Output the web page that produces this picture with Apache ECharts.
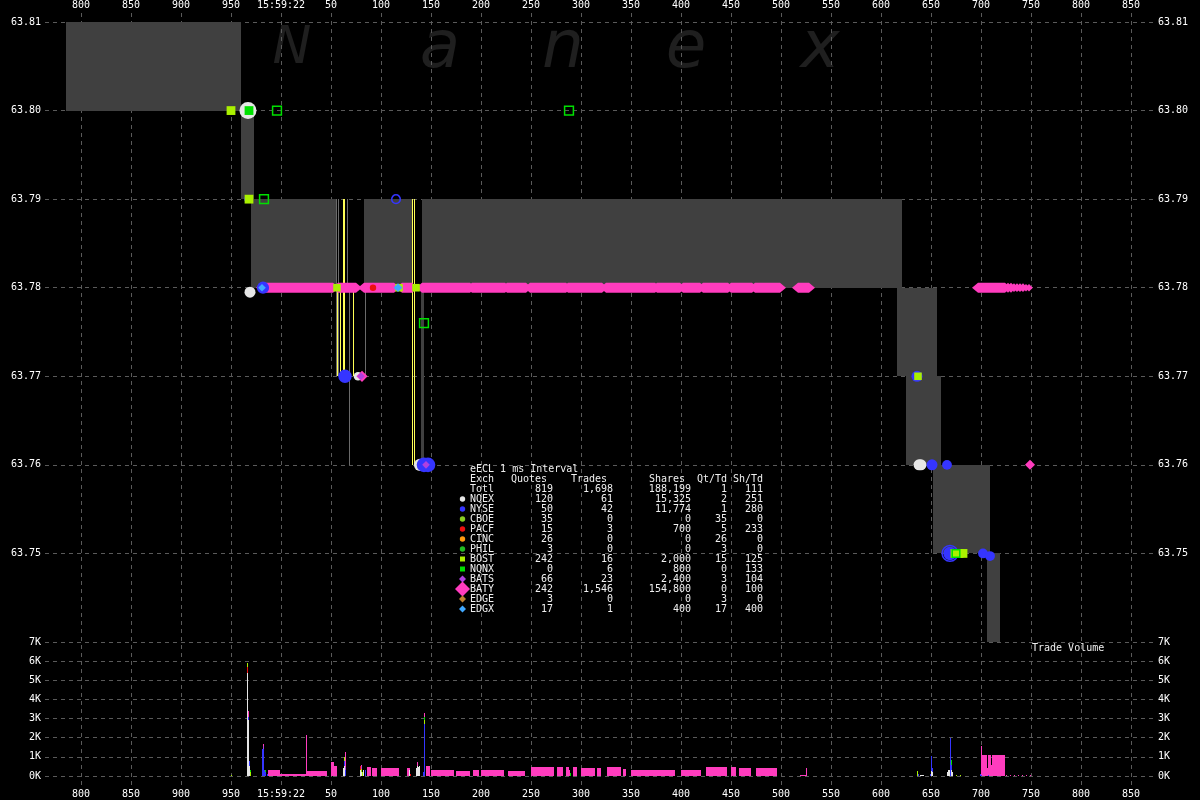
<!DOCTYPE html>
<html><head><meta charset="utf-8">
<script src="https://cdn.jsdelivr.net/npm/echarts@6/dist/echarts.min.js"></script>
<style>html,body{margin:0;padding:0;background:#000}#c{width:1200px;height:800px}</style>
</head><body><div id="c"></div>
<script>
// ---------- DATA (time in ms relative to 15:59:22.000) ----------
const xTickLabels = ['800','850','900','950','15:59:22','50','100','150','200','250','300','350','400','450','500','550','600','650','700','750','800','850'];
const priceTicks = [63.75, 63.76, 63.77, 63.78, 63.79, 63.80, 63.81];
const volumeTicks = ['0K','1K','2K','3K','4K','5K','6K','7K'];

// NBBO spread boxes: [startMs, endMs, bid, ask]
const spreads = [[-215,-40,63.80,63.81],[-40,-27,63.79,63.80],[-30,55,63.78,63.79],[83,131,63.78,63.79],[141,621,63.78,63.79],[140,143,63.76,63.78],[616,656,63.77,63.78],[625,660,63.76,63.77],[652,709,63.75,63.76],[706,719,63.74,63.75]];
// short-lived spread edges: [ms, low, high]
const graySpreadEdges = [[55,63.77,63.79],[57,63.77,63.79],[66,63.78,63.79],[68,63.76,63.78],[84,63.77,63.78]];
const yellowSpreadEdges = [[56,63.77,63.78],[59,63.77,63.78],[62,63.77,63.79],[63,63.77,63.79],[72,63.77,63.78],[131,63.76,63.79],[133,63.76,63.79]];

// BATY quote runs at 63.78: [startMs, endMs, price]
const batyRuns = [[-19,52,63.78],[57,75,63.78],[83,113,63.78],[121,131,63.78],[141,189,63.78],[191,224,63.78],[226,245,63.78],[249,285,63.78],[287,321,63.78],[325,374,63.78],[376,399,63.78],[402,419,63.78],[422,447,63.78],[450,471,63.78],[474,499,63.78],[517,528,63.78],[697,724,63.78]];
// single quotes: [ms, price, lots]
const batyQuotes = [[81,63.77,6],[749,63.76,5],[727,63.78,5],[730,63.78,5],[733,63.78,4],[736,63.78,4],[739,63.78,4],[742,63.78,4],[745,63.78,3],[748,63.78,3]];
const nqexQuotes = [[-33,63.80,10],[-31,63.7795,5],[77,63.77,3],[139,63.76,6],[638,63.76,5],[640,63.76,5]];
const nyseQuotes = [[-18,63.78,6],[-33,63.79,2],[64,63.77,7],[143,63.76,8],[147,63.76,8],[636,63.77,5],[651,63.76,5],[666,63.76,4],[669,63.75,7],[702,63.75,4],[709,63.7497,4]];
const nyseRing = [[669,63.75,9],[115,63.79,3]];
const bostQuotes = [[-50,63.80,4],[-32,63.79,4],[56,63.78,3],[118,63.78,3],[135,63.78,3],[637,63.77,3],[674,63.75,4],[678,63.75,4],[682,63.75,4]];
const nqnxQuotes = [[-32,63.80,4]];
const nqnxTrades = [[-4,63.80,4],[288,63.80,4],[-17,63.79,4],[143,63.776,4],[675,63.75,3]];
const edgxQuotes = [[117,63.78,4],[-19,63.78,3]];
const batsQuotes = [[80,63.77,3],[145,63.76,3]];
const pacfQuotes = [[92,63.78,2]];

// trade volume (shares): [ms, shares]
const nqexVol = [[-34,5400],[-33,2900],[-32,500],[62,400],[63,500],[79,300],[80,200],[82,300],[128,300],[135,400],[136,500],[137,450],[138,500],[639,50],[640,50],[641,50],[642,50],[650,250],[651,200],[666,200],[667,300],[668,300],[670,300],[671,200]];
const nyseVol = [[-33,200],[-32,300],[-19,1400],[-18,1400],[-17,300],[-16,200],[-14,100],[63,300],[64,300],[84,300],[142,200],[143,2700],[637,100],[649,100],[650,800],[651,200],[669,2000],[670,250],[699,80],[700,60],[707,60]];
const pacfVol = [[-34,300],[79,200],[129,100]];
const bostVol = [[-50,60],[-34,200],[-31,200],[63,200],[80,150],[81,200],[143,200],[636,250],[675,60],[679,60]];
const nqnxVol = [[-31,100],[-16,100],[143,200],[289,150],[670,300]];
const batsVol = [[-18,150],[64,150],[80,150]];
const batyVol = [[-33,300],[-18,100],[25,2150],[64,800],[80,100],[136,250],[143,200],[288,300],[525,400],[700,1500],[725,50],[729,50],[733,50],[737,50],[741,50],[745,50],[749,50]];
// BATY volume runs: [startMs, endMs, shares per ms]
const batyVolRuns = [[-13,-1,300],[-1,25,80],[26,46,250],[50,53,720],[53,56,520],[86,90,450],[91,96,400],[100,118,420],[126,129,400],[145,149,500],[150,173,320],[175,189,260],[192,198,300],[200,223,300],[227,244,270],[250,273,450],[276,282,450],[285,288,450],[292,296,450],[300,314,400],[316,320,420],[326,340,450],[342,345,350],[350,394,300],[400,420,300],[425,446,450],[450,455,450],[458,470,400],[475,496,400],[519,526,60],[701,706,1100],[706,707,400],[707,710,1100],[710,711,600],[711,724,1100]];

// summary table
const tableTitle = 'eECL 1 ms Interval';
const tableHeader = ['Exch','Quotes','Trades','Shares','Qt/Td','Sh/Td'];
const tableExch   = ['Totl','NQEX','NYSE','CBOE','PACF','CINC','PHIL','BOST','NQNX','BATS','BATY','EDGE','EDGX'];
const tableQuotes = ['819','120','50','35','15','26','3','242','0','66','242','3','17'];
const tableTrades = ['1,698','61','42','0','3','0','0','16','6','23','1,546','0','1'];
const tableShares = ['188,199','15,325','11,774','0','700','0','0','2,000','800','2,400','154,800','0','400'];
const tableQtTd   = ['1','2','1','35','5','26','3','15','0','3','0','3','17'];
const tableShTd   = ['111','251','280','0','233','0','0','125','133','104','100','0','400'];
const watermark = ['N','a','n','e','x'];

// ---------- STYLE ----------
const C = {
  NQEX:'#e6e6e6', NYSE:'#3535ff', CBOE:'#88cc22', PACF:'#ee1010', CINC:'#ff9a10', PHIL:'#22bb22',
  BOST:'#aaf000', NQNX:'#00e000', BATS:'#b040e0', BATY:'#ff3cbe', EDGE:'#c08030', EDGX:'#40a8ff'
};
const tableSym = {NQEX:'circle',NYSE:'circle',CBOE:'circle',PACF:'circle',CINC:'circle',PHIL:'circle',BOST:'rect',NQNX:'rect',BATS:'diamond',BATY:'bigdiamond',EDGE:'diamond',EDGX:'diamond'};
const MONO = '"DejaVu Sans Mono", monospace';
const gridLine = {show:true, lineStyle:{color:'#5a5a5a', width:1, type:[4,4]}};
const XMIN = -236, XMAX = 872;

const chart = echarts.init(document.getElementById('c'), null, {renderer:'canvas'});

function xLabel(v){ const i = Math.round((v + 200) / 50); return xTickLabels[i] || ''; }

// volume stacking
const stackOrder = [['NQEX',nqexVol],['NYSE',nyseVol],['PACF',pacfVol],['BOST',bostVol],['NQNX',nqnxVol],['BATS',batsVol],['BATY',batyVol]];
const volRects = [];
batyVolRuns.forEach(r => volRects.push([r[0], r[1], 0, r[2], 'BATY']));
const cum = {};
stackOrder.forEach(([ex, arr]) => {
  arr.forEach(([ms, v]) => {
    const b = cum[ms] || 0;
    volRects.push([ms, ms + 1, b, b + v, ex]);
    cum[ms] = b + v;
  });
});

function rectItem(params, api, fill){
  const p0 = api.coord([api.value(0), api.value(3)]);
  const p1 = api.coord([api.value(1), api.value(2)]);
  return {type:'rect', shape:{x:Math.round(p0[0]), y:Math.round(p0[1]), width:Math.max(1,Math.round(p1[0])-Math.round(p0[0])), height:Math.round(p1[1])-Math.round(p0[1])}, style:{fill:fill}};
}
function edgeSeries(data, color){
  return {type:'custom', xAxisIndex:2, yAxisIndex:1, data:data, silent:true,
    renderItem:(params, api) => {
      const a = api.coord([api.value(0), api.value(1)]);
      const b = api.coord([api.value(0), api.value(2)]);
      const x = Math.round(a[0]) + 0.5;
      return {type:'line', shape:{x1:x, y1:Math.round(a[1]), x2:x, y2:Math.round(b[1])}, style:{stroke:color, lineWidth:1}};
    }};
}
function scatter(data, color, symbol, base, empty){
  return {type:'scatter', xAxisIndex:2, yAxisIndex:1, data:data, symbol:symbol, silent:true,
    symbolSize:(v) => base + v[2] * 1.2,
    itemStyle: empty ? {color:'rgba(0,0,0,0)', borderColor:color, borderWidth:1.5, opacity:1} : {color:color, opacity:1}};
}

// graphics: watermark, table, caption
const graphics = [];
const wmX = [292, 440, 563, 686, 820];
watermark.forEach((t, i) => {
  const big = i === 0;
  graphics.push({type:'text', silent:true, z:-10, style:{text:t, x:wmX[i], y: big ? 23 : 17, fill:'#1f1f1f',
    fontSize: big ? 52 : 66, fontStyle:'italic', fontFamily:'DejaVu Sans',
    textAlign:'center', align:'center', textVerticalAlign:'top', verticalAlign:'top'}});
});
function txt(t, x, y, align){
  graphics.push({type:'text', silent:true, z:100, style:{text:t, x:x, y:y, fill:'#f0f0f0', font:'10px '+MONO, textAlign:align, textVerticalAlign:'middle', verticalAlign:'middle'}});
}
const rowY = (i) => 469 + 10 * i;
const colRight = [553, 613, 691, 727, 763];
const headRight = [547, 607, 685, 727, 763];
txt(tableTitle, 470, rowY(0), 'left');
txt(tableHeader[0], 470, rowY(1), 'left');
for (let k = 1; k < 6; k++) txt(tableHeader[k], headRight[k-1], rowY(1), 'right');
tableExch.forEach((ex, i) => {
  const y = rowY(i + 2);
  txt(ex, 470, y, 'left');
  [tableQuotes, tableTrades, tableShares, tableQtTd, tableShTd].forEach((col, k) => txt(col[i], colRight[k], y, 'right'));
  const s = tableSym[ex];
  if (!s) return;
  const c = C[ex];
  if (s === 'circle') graphics.push({type:'circle', silent:true, z:100, shape:{cx:462.5, cy:y, r:2.7}, style:{fill:c}});
  else if (s === 'rect') graphics.push({type:'rect', silent:true, z:100, shape:{x:460, y:y-2.5, width:5, height:5}, style:{fill:c}});
  else {
    const h = s === 'bigdiamond' ? 7.5 : 3.5;
    graphics.push({type:'polygon', silent:true, z:100, shape:{points:[[462.5,y-h],[462.5+h,y],[462.5,y+h],[462.5-h,y]]}, style:{fill:c}});
  }
});
graphics.push({type:'text', silent:true, z:100, style:{text:'Trade Volume', x:1032, y:648, fill:'#f0f0f0', font:'10px '+MONO, textAlign:'left', textVerticalAlign:'middle', verticalAlign:'middle'}});

const option = {
  backgroundColor:'#000',
  animation:false,
  grid:[
    {left:81, right:69, top:12, bottom:14},
    {left:45, right:47, top:22, bottom:158},
    {left:45, right:47, top:642, bottom:24}
  ],
  xAxis:[
    {type:'value', gridIndex:0, min:-200, max:850, interval:50, position:'top',
      axisLine:{show:false}, axisTick:{show:false}, splitLine:gridLine,
      axisLabel:{color:'#fff', fontFamily:MONO, fontSize:10, margin:3, formatter:xLabel}},
    {type:'value', gridIndex:0, min:-200, max:850, interval:50, position:'bottom',
      axisLine:{show:false}, axisTick:{show:false}, splitLine:{show:false},
      axisLabel:{color:'#fff', fontFamily:MONO, fontSize:10, margin:3, formatter:xLabel}},
    {type:'value', gridIndex:1, min:XMIN, max:XMAX, show:false, splitLine:{show:false}},
    {type:'value', gridIndex:2, min:XMIN, max:XMAX, show:false, splitLine:{show:false}}
  ],
  yAxis:[
    {type:'value', gridIndex:0, min:0, max:1, show:false, splitLine:{show:false}},
    {type:'value', gridIndex:1, min:63.74, max:63.81, interval:0.01, position:'left',
      axisLine:{show:false}, axisTick:{show:false}, splitLine:gridLine,
      axisLabel:{color:'#fff', fontFamily:MONO, fontSize:10, margin:4,
        formatter:(v) => { const p = priceTicks.find(t => Math.abs(t - v) < 0.001); return p ? p.toFixed(2) : ''; }}},
    {type:'value', gridIndex:1, min:63.74, max:63.81, interval:0.01, position:'right',
      axisLine:{show:false}, axisTick:{show:false}, splitLine:{show:false},
      axisLabel:{color:'#fff', fontFamily:MONO, fontSize:10, margin:5,
        formatter:(v) => { const p = priceTicks.find(t => Math.abs(t - v) < 0.001); return p ? p.toFixed(2) : ''; }}},
    {type:'value', gridIndex:2, min:0, max:7000, interval:1000, position:'left',
      axisLine:{show:false}, axisTick:{show:false}, splitLine:gridLine,
      axisLabel:{color:'#fff', fontFamily:MONO, fontSize:10, margin:4, formatter:(v) => volumeTicks[Math.round(v/1000)] || ''}},
    {type:'value', gridIndex:2, min:0, max:7000, interval:1000, position:'right',
      axisLine:{show:false}, axisTick:{show:false}, splitLine:{show:false},
      axisLabel:{color:'#fff', fontFamily:MONO, fontSize:10, margin:5, formatter:(v) => volumeTicks[Math.round(v/1000)] || ''}}
  ],
  graphic:{elements:graphics},
  series:[
    {type:'custom', xAxisIndex:2, yAxisIndex:1, data:spreads, silent:true,
      renderItem:(p, api) => rectItem(p, api, '#404040')},
    edgeSeries(graySpreadEdges, '#6a6a6a'),
    edgeSeries(yellowSpreadEdges, '#ffff55'),
    {type:'custom', xAxisIndex:2, yAxisIndex:1, data:batyRuns, silent:true,
      renderItem:(params, api) => {
        const a = api.coord([api.value(0), api.value(2)]);
        const b = api.coord([api.value(1), api.value(2)]);
        const y = a[1], h = 5;
        return {type:'polygon', shape:{points:[[a[0]-6,y],[a[0],y-h],[b[0],y-h],[b[0]+6,y],[b[0],y+h],[a[0],y+h]]}, style:{fill:C.BATY}};
      }},
    scatter(nqexQuotes, C.NQEX, 'circle', 5, false),
    scatter(nyseQuotes, C.NYSE, 'circle', 5, false),
    scatter(nyseRing, C.NYSE, 'circle', 5, true),
    scatter(bostQuotes, C.BOST, 'rect', 4, false),
    scatter(nqnxQuotes, C.NQNX, 'rect', 4, false),
    scatter(nqnxTrades, C.NQNX, 'rect', 4, true),
    scatter(batyQuotes, C.BATY, 'diamond', 4, false),
    scatter(edgxQuotes, C.EDGX, 'diamond', 4, false),
    scatter(batsQuotes, C.BATS, 'diamond', 4, false),
    scatter(pacfQuotes, C.PACF, 'circle', 4, false),
    {type:'custom', xAxisIndex:3, yAxisIndex:3, data:volRects, silent:true,
      renderItem:(params, api) => {
        const item = volRects[params.dataIndex];
        return rectItem(params, api, C[item[4]]);
      }}
  ]
};
chart.setOption(option);
</script>
</body></html>
